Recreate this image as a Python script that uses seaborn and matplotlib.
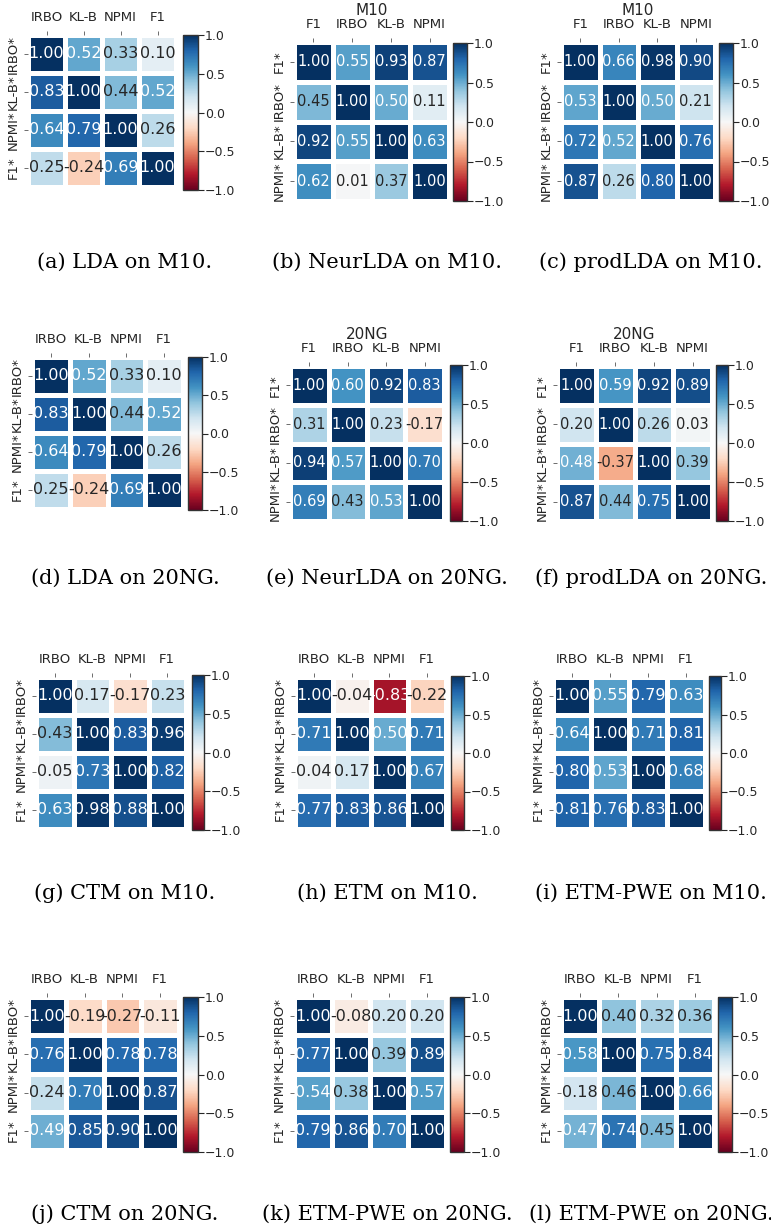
import matplotlib
matplotlib.use("Agg")
import matplotlib.pyplot as plt
import pandas as pd
import seaborn as sns

# metric labels: two orderings used across the panels
cols_a = ["IRBO", "KL-B", "NPMI", "F1"]
rows_a = ["IRBO*", "KL-B*", "NPMI*", "F1*"]
cols_b = ["F1", "IRBO", "KL-B", "NPMI"]
rows_b = ["F1*", "IRBO*", "KL-B*", "NPMI*"]

# correlation matrices
lda_m10 = [[1.00, 0.52, 0.33, 0.10],
           [0.83, 1.00, 0.44, 0.52],
           [0.64, 0.79, 1.00, 0.26],
           [0.25, -0.24, 0.69, 1.00]]
neurlda_m10 = [[1.00, 0.55, 0.93, 0.87],
               [0.45, 1.00, 0.50, 0.11],
               [0.92, 0.55, 1.00, 0.63],
               [0.62, 0.01, 0.37, 1.00]]
prodlda_m10 = [[1.00, 0.66, 0.98, 0.90],
               [0.53, 1.00, 0.50, 0.21],
               [0.72, 0.52, 1.00, 0.76],
               [0.87, 0.26, 0.80, 1.00]]
lda_20ng = [[1.00, 0.52, 0.33, 0.10],
            [0.83, 1.00, 0.44, 0.52],
            [0.64, 0.79, 1.00, 0.26],
            [0.25, -0.24, 0.69, 1.00]]
neurlda_20ng = [[1.00, 0.60, 0.92, 0.83],
                [0.31, 1.00, 0.23, -0.17],
                [0.94, 0.57, 1.00, 0.70],
                [0.69, 0.43, 0.53, 1.00]]
prodlda_20ng = [[1.00, 0.59, 0.92, 0.89],
                [0.20, 1.00, 0.26, 0.03],
                [0.48, -0.37, 1.00, 0.39],
                [0.87, 0.44, 0.75, 1.00]]
ctm_m10 = [[1.00, 0.17, -0.17, 0.23],
           [0.43, 1.00, 0.83, 0.96],
           [0.05, 0.73, 1.00, 0.82],
           [0.63, 0.98, 0.88, 1.00]]
etm_m10 = [[1.00, -0.04, -0.83, -0.22],
           [0.71, 1.00, 0.50, 0.71],
           [0.04, 0.17, 1.00, 0.67],
           [0.77, 0.83, 0.86, 1.00]]
etmpwe_m10 = [[1.00, 0.55, 0.79, 0.63],
              [0.64, 1.00, 0.71, 0.81],
              [0.80, 0.53, 1.00, 0.68],
              [0.81, 0.76, 0.83, 1.00]]
ctm_20ng = [[1.00, -0.19, -0.27, -0.11],
            [0.76, 1.00, 0.78, 0.78],
            [0.24, 0.70, 1.00, 0.87],
            [0.49, 0.85, 0.90, 1.00]]
etmpwe_20ng_k = [[1.00, -0.08, 0.20, 0.20],
                 [0.77, 1.00, 0.39, 0.89],
                 [0.54, 0.38, 1.00, 0.57],
                 [0.79, 0.86, 0.70, 1.00]]
etmpwe_20ng_l = [[1.00, 0.40, 0.32, 0.36],
                 [0.58, 1.00, 0.75, 0.84],
                 [0.18, 0.46, 1.00, 0.66],
                 [0.47, 0.74, 0.45, 1.00]]

captions = ["(a) LDA on M10.", "(b) NeurLDA on M10.", "(c) prodLDA on M10.",
            "(d) LDA on 20NG.", "(e) NeurLDA on 20NG.", "(f) prodLDA on 20NG.",
            "(g) CTM on M10.", "(h) ETM on M10.", "(i) ETM-PWE on M10.",
            "(j) CTM on 20NG.", "(k) ETM-PWE on 20NG.", "(l) ETM-PWE on 20NG."]

W, H = 771, 1232


def box(l, t, r, b):
    return [l / W, 1 - b / H, (r - l) / W, (b - t) / H]


# (data, cols, rows, title, heatmap box px, colorbar box px, annot size)
panels = [
    (lda_m10, cols_a, rows_a, None, (28, 35, 176, 187), (183, 35, 198, 190), 11.5),
    (neurlda_m10, cols_b, rows_b, "M10", (294, 42, 449, 201), (453, 43, 467, 201), 10.5),
    (prodlda_m10, cols_b, rows_b, "M10", (561, 42, 715, 201), (719, 43, 733, 201), 10.5),
    (lda_20ng, cols_a, rows_a, None, (32, 357, 183, 509), (188, 357, 202, 510), 11.5),
    (neurlda_20ng, cols_b, rows_b, "20NG", (290, 366, 444, 521), (450, 365, 462, 521), 10.5),
    (prodlda_20ng, cols_b, rows_b, "20NG", (557, 366, 712, 521), (716, 365, 728, 521), 10.5),
    (ctm_m10, cols_a, rows_a, None, (36, 677, 186, 829), (192, 675, 204, 830), 11.5),
    (etm_m10, cols_a, rows_a, None, (295, 677, 446, 829), (451, 676, 464, 830), 11.5),
    (etmpwe_m10, cols_a, rows_a, None, (553, 677, 705, 829), (709, 676, 721, 830), 11.5),
    (ctm_20ng, cols_a, rows_a, None, (28, 997, 179, 1150), (183, 997, 198, 1152), 11.5),
    (etmpwe_20ng_k, cols_a, rows_a, None, (294, 997, 446, 1150), (450, 997, 464, 1152), 11.5),
    (etmpwe_20ng_l, cols_a, rows_a, None, (561, 997, 714, 1150), (718, 997, 732, 1152), 11.5),
]

caption_x = [125, 387, 651]
caption_y = [262, 578, 893, 1214]

fig = plt.figure(figsize=(7.71, 12.32), dpi=100)
label_color = "#262626"

for i, (data, cols, rows, title, hbox, cbox, ann_size) in enumerate(panels):
    ax = fig.add_axes(box(*hbox))
    cax = fig.add_axes(box(*cbox))
    df = pd.DataFrame(data, index=rows, columns=cols)
    sns.heatmap(df, ax=ax, cbar_ax=cax, cmap="RdBu", vmin=-1, vmax=1,
                annot=True, fmt=".2f", linewidths=2.5, linecolor="white",
                annot_kws={"size": ann_size},
                cbar_kws={"ticks": [-1, -0.5, 0, 0.5, 1]})
    ax.xaxis.tick_top()
    ax.set_xticklabels(cols, rotation=0, fontsize=9.5, color=label_color)
    ax.set_yticklabels(rows, rotation=90, va="center", fontsize=9.5, color=label_color)
    ax.tick_params(axis="x", length=3, width=0.6, pad=5, color="#555555")
    ax.tick_params(axis="y", length=3, width=0.6, pad=3, color="#555555")
    ax.set_xlabel("")
    ax.set_ylabel("")
    if title:
        ax.set_title(title, fontsize=11, pad=2, color=label_color)

    cb = ax.collections[0].colorbar
    cb.outline.set_linewidth(1.0)
    cb.outline.set_edgecolor("#333333")
    cax.tick_params(labelsize=9, length=4, width=0.8, pad=1, colors=label_color)

    fig.text(caption_x[i % 3] / W, 1 - caption_y[i // 3] / H, captions[i],
             ha="center", va="center", fontsize=15, family="DejaVu Serif",
             color="black")

fig.savefig("out.png", dpi=100, facecolor="white")
plt.close(fig)
